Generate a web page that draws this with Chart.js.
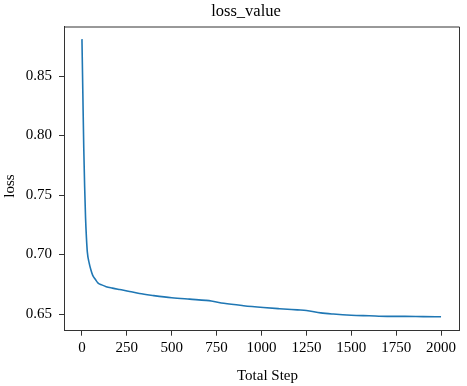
<!DOCTYPE html>
<html>
<head>
<meta charset="utf-8">
<script src="https://cdn.jsdelivr.net/npm/chart.js@4/dist/chart.umd.min.js"></script>
<style>
  html, body { margin: 0; padding: 0; background: #fff; }
  #wrap { width: 467px; height: 386px; }
</style>
</head>
<body>
<div id="wrap"><canvas id="lossChart" width="467" height="386"></canvas></div>
<script>
// training steps
const steps = [0, 5, 10, 15, 20, 25, 30, 40, 50, 60, 75, 90, 110, 135, 170, 210, 265, 320, 400, 500,
  600, 690, 720, 790, 900, 1010, 1100, 1200, 1250, 1330, 1400, 1500, 1600, 1700, 1800, 1900, 2000];
// loss at each step
const lossValues = [0.881, 0.835, 0.790, 0.757, 0.731, 0.714, 0.702, 0.693, 0.687, 0.6825, 0.679, 0.676,
  0.6745, 0.673, 0.6718, 0.6706, 0.669, 0.6672, 0.6655, 0.6637, 0.6625, 0.6615, 0.661, 0.659, 0.657,
  0.6555, 0.6545, 0.6535, 0.653, 0.651, 0.650, 0.649, 0.6485, 0.648, 0.648, 0.6478, 0.6477];
const xTicks = [0, 250, 500, 750, 1000, 1250, 1500, 1750, 2000];
const yTicks = [0.65, 0.70, 0.75, 0.80, 0.85];

const FONT = '"Liberation Serif", "Times New Roman", serif';
const AXIS = '#333333';

// frame + titles (matplotlib style)
const framePlugin = {
  id: 'frame',
  afterDraw(chart) {
    const { ctx, chartArea: a } = chart;
    ctx.save();
    ctx.strokeStyle = AXIS;
    ctx.lineWidth = 1;
    ctx.beginPath();
    ctx.moveTo(a.left, a.top + 0.5);
    ctx.lineTo(a.right + 0.5, a.top + 0.5);
    ctx.lineTo(a.right + 0.5, a.bottom);
    ctx.stroke();

    ctx.fillStyle = '#000';
    ctx.textAlign = 'center';
    ctx.textBaseline = 'alphabetic';
    ctx.font = '16.5px ' + FONT;
    ctx.fillText('loss_value', 246, 15.5);
    ctx.font = '15px ' + FONT;
    ctx.fillText('Total Step', 267.5, 379.5);
    ctx.translate(13.5, 186);
    ctx.rotate(-Math.PI / 2);
    ctx.fillText('loss', 0, 0);
    ctx.restore();
  }
};

const ctx = document.getElementById('lossChart').getContext('2d');
new Chart(ctx, {
  type: 'line',
  data: {
    datasets: [{
      label: 'loss',
      data: steps.map((s, i) => ({ x: s, y: lossValues[i] })),
      borderColor: '#1f77b4',
      borderWidth: 1.6,
      pointRadius: 0,
      fill: false,
      cubicInterpolationMode: 'monotone'
    }]
  },
  options: {
    responsive: false,
    animation: false,
    layout: { padding: { top: 26.5, right: 8, left: 0, bottom: 0 } },
    plugins: {
      legend: { display: false },
      title: { display: false },
      tooltip: { enabled: false }
    },
    scales: {
      x: {
        type: 'linear',
        min: -100,
        max: 2100,
        afterFit: (scale) => { scale.height = 55.3; },
        afterBuildTicks: (scale) => { scale.ticks = xTicks.map(v => ({ value: v })); },
        grid: { drawOnChartArea: false, drawTicks: true, tickLength: 5, color: AXIS },
        border: { display: true, color: AXIS, width: 1 },
        ticks: {
          color: '#000',
          padding: 3,
          maxRotation: 0,
          font: { family: FONT, size: 15 },
          callback: (v) => String(v)
        }
      },
      y: {
        type: 'linear',
        min: 0.636,
        max: 0.8916,
        afterFit: (scale) => { scale.width = 64; },
        afterBuildTicks: (scale) => { scale.ticks = yTicks.map(v => ({ value: v })); },
        grid: { drawOnChartArea: false, drawTicks: true, tickLength: 5, color: AXIS },
        border: { display: true, color: AXIS, width: 1 },
        ticks: {
          color: '#000',
          padding: 7,
          font: { family: FONT, size: 15 },
          callback: (v) => v.toFixed(2)
        }
      }
    }
  },
  plugins: [framePlugin]
});
</script>
</body>
</html>
